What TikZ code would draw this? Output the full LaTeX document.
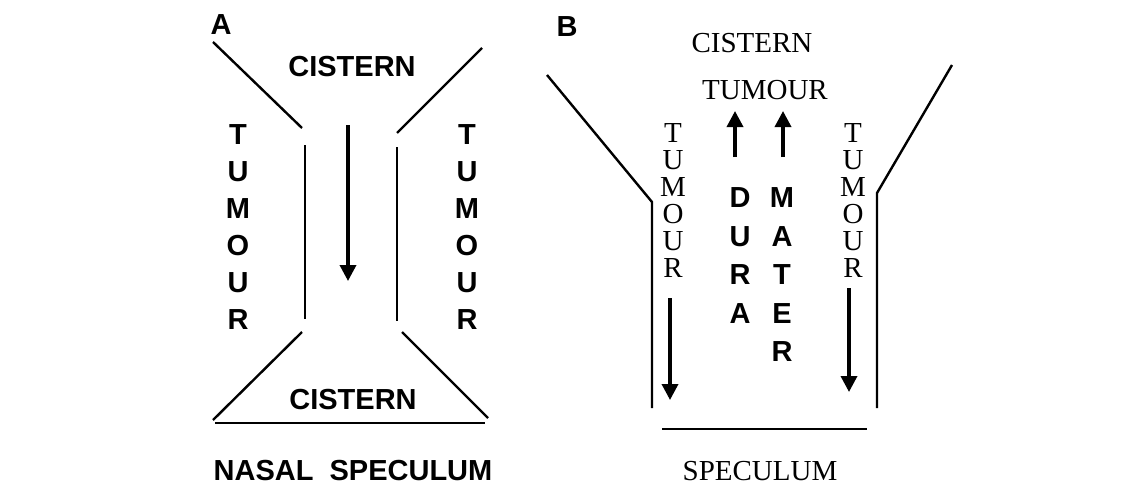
\documentclass[tikz,border=0pt]{standalone}
\usepackage{fontspec}
\setmainfont{Liberation Serif}
\setsansfont{Liberation Sans}
\usetikzlibrary{arrows.meta,positioning}

\tikzset{
  sanslbl/.style={font=\fontsize{29}{29}\selectfont\sffamily\bfseries,inner sep=0pt},
  seriflbl/.style={font=\fontsize{29}{29}\selectfont\rmfamily,inner sep=0pt},
  wall/.style={line width=2.4pt},
  flow/.style={line width=3.5pt,-{Triangle[length=16pt,width=16pt]}}
}

\begin{document}
\begin{tikzpicture}[x=1pt,y=-1pt]
\useasboundingbox (0,0) rectangle (1145,485);
% Panel A: nasal speculum
\node[sanslbl] (labA) at (221,25) {A};
\node[sanslbl] (aCisTop) at (352,67) {CISTERN};
\draw[wall] (213,42) -- (302,128);
\draw[wall] (482,48) -- (397,133);
\draw[wall] (305,145) -- (305,319);
\draw[wall] (397,147) -- (397,321);
\draw[wall] (302,332) -- (213,420);
\draw[wall] (402,332) -- (488,418);
\draw[wall] (215,423) -- (485,423);
\foreach \l [count=\i] in {T,U,M,O,U,R}{
  \node[sanslbl] (aTumL\i) at (238,{135+37*(\i-1)}) {\l};
  \node[sanslbl] (aTumR\i) at (467,{135+37*(\i-1)}) {\l};
}
\coordinate (aFlowTop) at (348,125);
\coordinate (aFlowTip) at (348,281);
\draw[flow] (aFlowTop) -- (aFlowTip);
\node[sanslbl] (aCisBot) at (353,400) {CISTERN};
\node[sanslbl] (aSpec) at (353,471) {NASAL\ \ SPECULUM};

% Panel B: speculum
\node[sanslbl] (labB) at (567,27) {B};
\node[seriflbl] (bCis) at (752,43) {CISTERN};
\node[seriflbl] (bTum) at (765,90) {TUMOUR};
\draw[wall] (547,75) -- (652,202) -- (652,408);
\draw[wall] (952,65) -- (877,193) -- (877,408);
\draw[wall] (662,429) -- (867,429);
\foreach \l [count=\i] in {T,U,M,O,U,R}{
  \node[seriflbl] (bTumL\i) at (673,{133+27*(\i-1)}) {\l};
  \node[seriflbl] (bTumR\i) at (853,{133+27*(\i-1)}) {\l};
}
\foreach \l [count=\i] in {D,U,R,A}
  \node[sanslbl] (bDura\i) at (740,{198+38.5*(\i-1)}) {\l};
\foreach \l [count=\i] in {M,A,T,E,R}
  \node[sanslbl] (bMater\i) at (782,{198+38.5*(\i-1)}) {\l};
% arrows
\coordinate (bUpL) at (735,157);
\coordinate (bUpLTip) at (735,111);
\coordinate (bUpR) at (783,157);
\coordinate (bUpRTip) at (783,111);
\draw[flow] (bUpL) -- (bUpLTip);
\draw[flow] (bUpR) -- (bUpRTip);
\coordinate (bDownL) at (670,298);
\coordinate (bDownLTip) at (670,400);
\coordinate (bDownR) at (849,288);
\coordinate (bDownRTip) at (849,392);
\draw[flow] (bDownL) -- (bDownLTip);
\draw[flow] (bDownR) -- (bDownRTip);
\node[seriflbl] (bSpec) at (760,471) {SPECULUM};
\end{tikzpicture}
\end{document}
